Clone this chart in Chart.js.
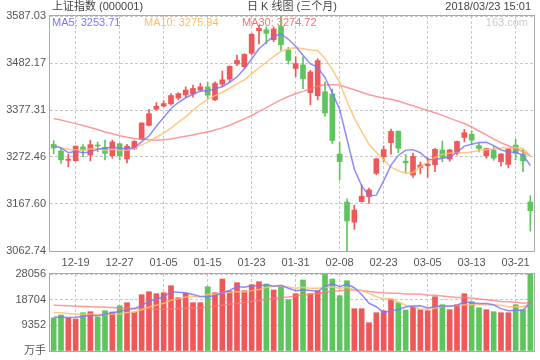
<!DOCTYPE html>
<html><head><meta charset="utf-8">
<script src="https://cdn.jsdelivr.net/npm/chart.js@4/dist/chart.umd.min.js"></script>
<style>
html,body{margin:0;padding:0;background:#fff;}
#wrap{position:relative;width:540px;height:360px;overflow:hidden;}
canvas{position:absolute;left:0;}
</style></head><body>
<div id="wrap">
<canvas id="price" width="540" height="272" style="top:0px"></canvas>
<canvas id="vol" width="540" height="93" style="top:267px"></canvas>
</div>
<script>
const dates = ['12-14','12-15','12-18','12-19','12-20','12-21','12-22','12-25','12-26','12-27','12-28','12-29',
'01-02','01-03','01-04','01-05','01-08','01-09','01-10','01-11','01-12','01-15','01-16','01-17','01-18','01-19','01-22','01-23','01-24','01-25','01-26','01-29','01-30','01-31',
'02-01','02-02','02-05','02-06','02-07','02-08','02-09','02-12','02-13','02-14','02-22','02-23','02-26','02-27','02-28',
'03-01','03-02','03-05','03-06','03-07','03-08','03-09','03-12','03-13','03-14','03-15','03-16','03-19','03-20','03-21','03-22','03-23'];

const opens = [3300.8,3285.8,3265.0,3264.3,3294.8,3276.9,3299.0,3294.0,3275.5,3302.0,
3268.0,3291.0,3312.0,3343.0,3379.0,3386.0,3391.0,3404.0,3411.0,3413.0,
3422.0,3429.0,3400.0,3435.0,3446.0,3480.0,3474.0,3504.0,3554.0,3556.0,
3534.0,3563.6,3511.0,3470.0,3478.0,3416.0,3409.0,3418.0,3413.0,3279.0,
3172.0,3127.0,3173.0,3184.0,3236.0,3273.0,3304.5,3330.0,3263.0,3232.0,
3249.0,3253.0,3255.0,3288.0,3268.0,3281.0,3316.0,3323.0,3298.0,3275.0,
3288.0,3262.0,3256.0,3299.0,3279.0,3172.0];
const highs = [3308.8,3291.9,3278.5,3297.0,3300.0,3310.0,3306.0,3310.0,3310.0,3303.0,
3301.0,3309.0,3349.0,3379.0,3393.6,3398.0,3414.0,3416.0,3429.0,3433.0,
3437.0,3439.0,3440.0,3464.0,3476.0,3500.0,3503.0,3548.0,3566.0,3563.0,
3563.0,3587.03,3517.0,3496.0,3496.0,3466.0,3492.0,3440.0,3424.0,3305.0,
3179.0,3165.0,3210.0,3203.0,3269.0,3297.0,3335.0,3331.0,3278.0,3281.0,
3261.0,3271.0,3291.0,3308.0,3290.0,3308.0,3334.0,3331.0,3303.0,3292.0,
3297.0,3280.0,3291.0,3312.0,3290.0,3186.0];
const lows = [3279.8,3258.4,3250.8,3263.0,3273.0,3263.5,3284.0,3266.0,3270.0,3266.0,
3259.0,3289.0,3311.0,3342.0,3377.0,3384.0,3388.0,3400.0,3406.0,3406.0,
3418.0,3403.0,3398.0,3430.0,3440.0,3476.0,3470.0,3500.0,3525.0,3525.0,
3530.0,3510.0,3480.0,3452.0,3425.0,3389.0,3400.0,3363.0,3302.0,3221.0,
3062.74,3111.0,3172.0,3169.0,3233.0,3262.0,3279.0,3282.0,3236.0,3227.0,
3235.0,3227.0,3240.0,3262.0,3263.0,3277.0,3306.0,3300.0,3284.0,3270.0,
3265.0,3252.0,3248.0,3266.0,3240.0,3107.0];
const closes = [3292.44,3266.14,3267.92,3296.54,3287.61,3300.06,3297.06,3280.46,3306.12,3275.78,
3296.38,3307.17,3348.33,3369.11,3385.71,3391.75,3409.48,3413.90,3421.83,3425.34,
3428.94,3410.49,3436.59,3444.67,3474.75,3487.86,3501.36,3546.50,3559.47,3548.31,
3558.13,3523.00,3488.01,3480.83,3446.98,3462.08,3487.50,3370.65,3309.26,3262.05,
3129.85,3154.13,3184.96,3199.16,3268.56,3289.02,3329.57,3292.07,3259.41,3273.75,
3254.53,3256.93,3289.64,3271.67,3288.41,3307.17,3326.70,3310.24,3291.38,3291.11,
3269.88,3279.25,3290.64,3280.95,3263.48,3152.76];

const ma5 = [3297.6,3292.8,3282.0,3285.2,3282.2,3283.8,3290.0,3292.4,3294.2,3291.8,
3291.0,3293.0,3306.6,3319.2,3341.2,3360.4,3380.8,3394.0,3404.6,3412.4,
3419.8,3420.0,3424.6,3429.2,3439.2,3451.0,3469.2,3491.2,3514.0,3528.6,
3542.6,3547.0,3535.2,3519.6,3499.4,3480.2,3473.2,3449.8,3415.4,3378.4,
3312.0,3245.2,3208.0,3186.0,3187.4,3219.2,3254.4,3275.8,3287.8,3288.8,
3282.0,3267.4,3267.0,3269.6,3272.4,3282.8,3296.8,3300.8,3304.6,3305.2,
3297.8,3288.2,3284.4,3282.4,3276.8,3253.4];
const ma10 = [3298.6,3293.4,3289.2,3288.5,3287.9,3290.7,3291.4,3287.2,3289.7,3287.0,
3287.4,3291.5,3299.5,3306.7,3316.5,3325.7,3336.9,3350.3,3361.9,3376.8,
3390.1,3400.4,3409.3,3416.9,3425.8,3435.4,3444.6,3457.9,3471.6,3483.9,
3496.8,3508.1,3513.2,3516.8,3514.0,3511.4,3510.1,3492.5,3467.5,3438.9,
3396.1,3359.2,3328.9,3300.7,3282.9,3265.6,3249.8,3241.9,3236.9,3238.1,
3250.6,3260.9,3271.4,3278.7,3280.6,3282.4,3282.1,3283.9,3287.1,3288.8,
3290.3,3292.5,3292.6,3293.5,3291.0,3275.6];
const ma30 = [3358.3,3354.8,3350.8,3346.9,3342.6,3338.4,3333.8,3328.2,3324.1,3319.9,
3316.4,3313.9,3312.4,3311.0,3309.6,3310.9,3312.7,3315.8,3318.7,3321.6,
3325.4,3328.4,3332.7,3337.4,3343.4,3350.6,3357.6,3365.1,3374.4,3382.6,
3391.4,3400.0,3407.3,3413.5,3418.8,3424.2,3430.5,3433.6,3433.7,3433.2,
3427.7,3422.6,3417.1,3411.5,3407.6,3404.1,3401.5,3397.4,3392.0,3387.0,
3381.2,3376.1,3371.2,3365.4,3359.2,3353.1,3347.3,3339.4,3330.5,3321.9,
3312.3,3304.2,3297.6,3291.0,3284.8,3274.5];

const volumes = [12025,13118,12025,11661,13957,14321,12390,14685,14212,16507,
17601,14212,20516,21609,20880,21245,23795,19423,21025,17601,
17601,23431,21245,26237,21864,24889,21973,24160,25253,24415,
22228,23795,18694,20880,25872,20880,21973,27900,26237,20151,
25617,15414,15414,10313,13957,14685,18949,17601,14940,16143,
15050,14685,19787,16872,15050,16872,20880,17965,15778,15050,
14321,13957,13957,16872,15050,28056];
const volMa5 = [12400,12300,12200,12300,12560,13020,12880,13420,13920,14420,
15080,15440,16600,18080,18960,19680,21600,21380,21260,20600,
19880,19800,20160,21200,22060,23520,23240,23840,23660,24160,
23620,23980,22880,22000,22300,22040,21680,23520,24580,23440,
24380,23060,20560,17380,16140,13960,14660,15100,16020,16440,
16520,15680,16120,16520,16320,16680,17920,17560,17340,17340,
16820,15440,14640,14860,14860,17620];
const volMa10 = [14000,13900,13700,13500,13400,13400,13300,13300,13400,13490,
14050,14160,15010,16000,16690,17380,18520,18990,19670,19780,
19780,20700,20770,21230,21330,21700,21520,22000,22430,23110,
23570,23610,23360,22830,23230,22830,22830,23200,23290,22870,
23210,22370,22040,20980,19790,19170,18860,17830,16700,16290,
15240,15170,15610,16270,16380,16600,16800,16840,16930,16830,
16750,16680,16100,16100,16100,17220];
const volMa30 = [16650,16550,16450,16350,16250,16150,16050,15950,15850,15700,
15600,15500,15400,15300,15250,15250,15300,15400,15500,15650,
15800,16050,16350,16650,17000,17350,17700,18050,18400,18790,
19130,19490,19710,20020,20420,20640,20960,21400,21800,21920,
22190,22230,22060,21680,21450,21230,21070,21010,20810,20760,
20670,20380,20340,20030,19800,19530,19500,19290,18970,18660,
18400,18070,17920,17780,17420,17660];

const priceTicks = [3062.74, 3167.60, 3272.46, 3377.31, 3482.17, 3587.03];
const volTicks = [0, 9352, 18704, 28056];
const titleText = '上证指数 (000001)';
const subtitleText = '日 K 线图 (三个月)';
const timeText = '2018/03/23 15:01';
const legendItems = [['MA5: 3253.71', 52], ['MA10: 3275.94', 144], ['MA30: 3274.72', 242]];
const sourceText = '163.com';

const RED = '#ee5858', GREEN = '#5ec45e';
const C5 = 'rgba(120,120,255,0.85)', C10 = 'rgba(255,190,110,0.85)', C30 = 'rgba(255,120,120,0.75)';
const LEG = ['#7777ff', '#ffbb66', '#ff6f6f'];
const GRID = '#c8c8c8';
const candleColors = closes.map((c, i) => c >= opens[i] ? RED : GREEN);
const FONT = "'Liberation Sans','Noto Sans CJK SC',Arial,sans-serif";

Chart.defaults.font.family = FONT;
Chart.defaults.font.size = 11;
Chart.defaults.color = '#555';

const frame = {
  id: 'frame',
  afterDraw(chart) {
    const { ctx, chartArea: a } = chart;
    ctx.save();
    ctx.strokeStyle = '#aaaaaa';
    ctx.lineWidth = 1;
    ctx.strokeRect(Math.round(a.left) - 0.5, Math.round(a.top) - 0.5,
      Math.round(a.right - a.left) + 1, Math.round(a.bottom - a.top) + 1);
    ctx.restore();
  }
};

const header = {
  id: 'header',
  afterDraw(chart) {
    const ctx = chart.ctx;
    ctx.save();
    ctx.font = '11px ' + FONT;
    ctx.textBaseline = 'middle';
    ctx.fillStyle = '#444';
    ctx.textAlign = 'left';
    ctx.fillText(titleText, 52, 7);
    ctx.fillText(subtitleText, 247, 7);
    ctx.textAlign = 'right';
    ctx.fillText(timeText, 531, 7);
    ctx.textAlign = 'left';
    legendItems.forEach((it, k) => { ctx.fillStyle = LEG[k]; ctx.fillText(it[0], it[1], 23); });
    ctx.textAlign = 'right';
    ctx.fillStyle = '#cccccc';
    ctx.fillText(sourceText, 528, 23);
    ctx.restore();
  }
};

function maLine(data, color, label) {
  return { type: 'line', label, data, borderColor: color, borderWidth: 1.5,
    pointRadius: 0, tension: 0, fill: false, order: 0 };
}

const xGrid = { offset: false, drawTicks: false, color: c => (c.index % 6 === 3 ? GRID : 'rgba(0,0,0,0)') };

new Chart(document.getElementById('price'), {
  type: 'bar',
  data: {
    labels: dates,
    datasets: [
      maLine(ma5, C5, 'MA5'), maLine(ma10, C10, 'MA10'), maLine(ma30, C30, 'MA30'),
      { type: 'bar', label: 'body', data: opens.map((o, i) => [o, closes[i]]),
        backgroundColor: candleColors, borderWidth: 0, barThickness: 5, grouped: false, minBarLength: 1, order: 1 },
      { type: 'bar', label: 'wick', data: lows.map((l, i) => [l, highs[i]]),
        backgroundColor: candleColors, borderWidth: 0, barThickness: 1, grouped: false, order: 2 }
    ]
  },
  options: {
    responsive: false, animation: false, events: [],
    layout: { padding: { top: 16, right: 6, left: 0, bottom: 0 } },
    plugins: { legend: { display: false }, tooltip: { enabled: false } },
    scales: {
      x: { offset: true, grid: xGrid, border: { display: false, dash: [3, 2] },
        ticks: { autoSkip: false, maxRotation: 0, minRotation: 0, padding: 5, color: '#555',
          callback: (v, i) => (i % 6 === 3 ? dates[i] : '') },
        afterFit: s => { s.height = 21; } },
      y: { min: priceTicks[0], max: priceTicks[priceTicks.length - 1],
        afterBuildTicks: s => { s.ticks = priceTicks.map(v => ({ value: v })); },
        grid: { drawTicks: false, color: GRID }, border: { display: false, dash: [3, 2] },
        ticks: { padding: 4, color: '#555', callback: v => Number(v).toFixed(2) },
        afterFit: s => { s.width = 50; } }
    }
  },
  plugins: [frame, header]
});

new Chart(document.getElementById('vol'), {
  type: 'bar',
  data: {
    labels: dates,
    datasets: [
      maLine(volMa5, C5, 'MA5'), maLine(volMa10, C10, 'MA10'), maLine(volMa30, C30, 'MA30'),
      { type: 'bar', label: 'volume', data: volumes, backgroundColor: candleColors,
        borderWidth: 0, barThickness: 5, grouped: false, order: 1 }
    ]
  },
  options: {
    responsive: false, animation: false, events: [],
    layout: { padding: { top: 7, right: 6, left: 0, bottom: 9 } },
    plugins: { legend: { display: false }, tooltip: { enabled: false } },
    scales: {
      x: { offset: true, grid: xGrid, border: { display: false, dash: [3, 2] },
        ticks: { display: false, autoSkip: false, padding: 0 }, afterFit: s => { s.height = 0; } },
      y: { min: volTicks[0], max: volTicks[volTicks.length - 1],
        afterBuildTicks: s => { s.ticks = volTicks.map(v => ({ value: v })); },
        grid: { drawTicks: false, color: GRID }, border: { display: false, dash: [3, 2] },
        ticks: { padding: 4, color: '#555', font: { lineHeight: 0.5 },
          callback: v => (v === 0 ? '万手' : String(v)) },
        afterFit: s => { s.width = 50; } }
    }
  },
  plugins: [frame]
});
</script>
</body></html>
